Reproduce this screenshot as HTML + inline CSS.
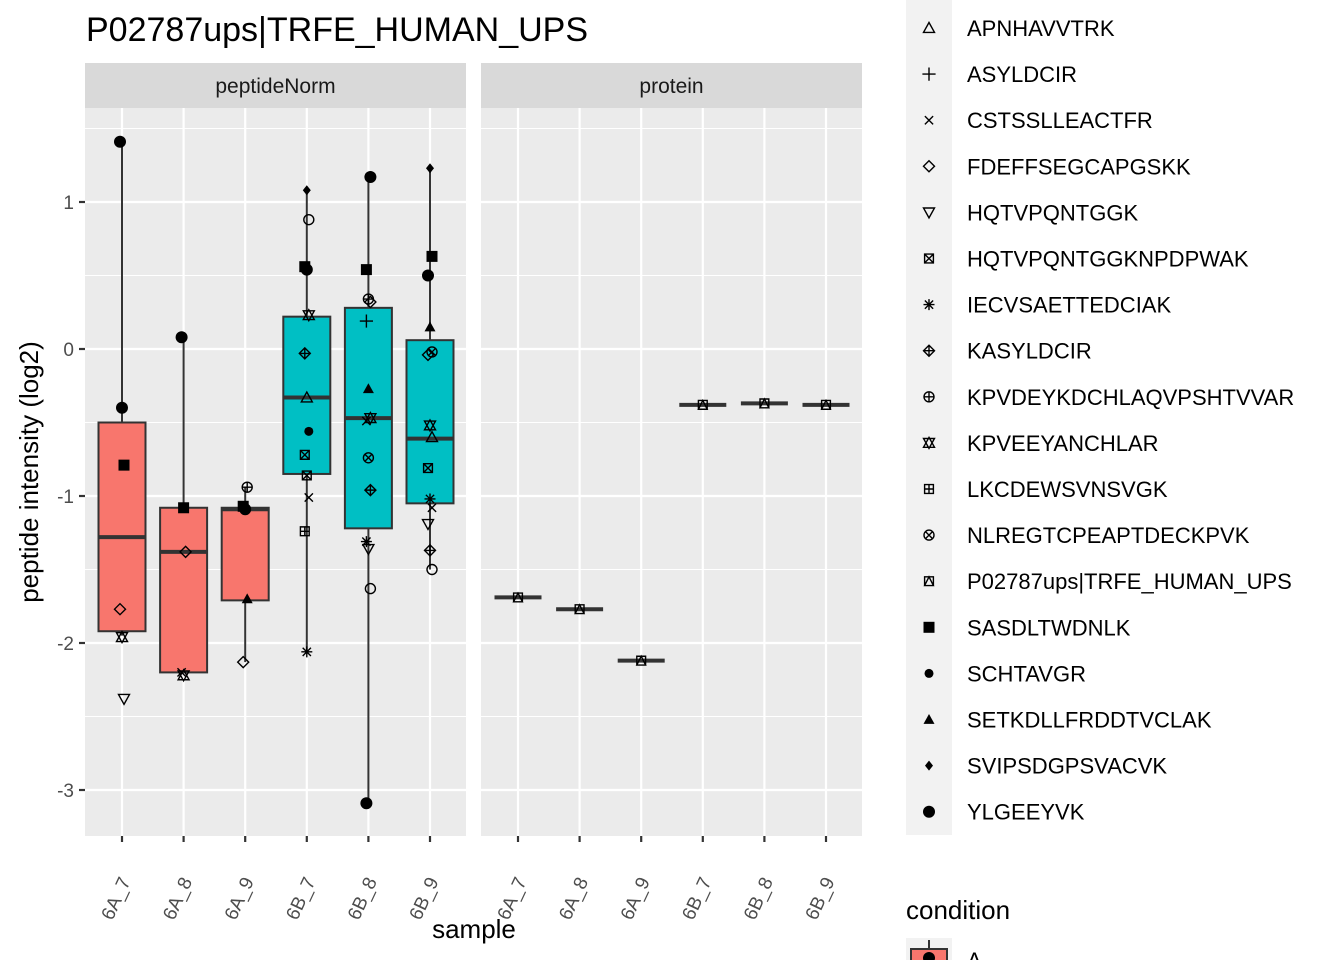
<!DOCTYPE html>
<html><head><meta charset="utf-8"><style>
html,body{margin:0;padding:0;background:#fff}
svg{display:block;font-family:"Liberation Sans",sans-serif}
</style></head><body>
<svg id="c" width="1344" height="960" viewBox="0 0 1344 960">
<text x="86" y="41" font-size="34" fill="#000">P02787ups|TRFE_HUMAN_UPS</text>
<g id="g"></g>
</svg>
<script>
const samples=["6A_7","6A_8","6A_9","6B_7","6B_8","6B_9"];
const yTicks=[1,0,-1,-2,-3];
const boxQ3=[-0.50,-1.08,-1.08,0.22,0.28,0.06];
const boxMed=[-1.28,-1.38,-1.09,-0.33,-0.47,-0.61];
const boxQ1=[-1.92,-2.20,-1.71,-0.85,-1.22,-1.05];
const whiskHi=[1.41,0.08,-0.94,1.08,1.17,1.23];
const whiskLo=[-1.95,-2.20,-2.13,-2.06,-3.09,-1.50];
const proteinVals=[-1.69,-1.77,-2.12,-0.38,-0.37,-0.38];
const ptSample=[0,0,0,0,0,0, 1,1,1,1,1, 2,2,2,2,2, 3,3,3,3,3,3,3,3,3,3,3,3,3, 4,4,4,4,4,4,4,4,4,4,4,4,4,4, 5,5,5,5,5,5,5,5,5,5,5,5,5,5];
const ptVal=[1.41,-0.40,-0.79,-1.77,-1.96,-2.38, 0.08,-1.08,-1.38,-2.20,-2.22, -0.94,-1.07,-1.09,-1.70,-2.13,
 1.08,0.88,0.56,0.54,0.23,-0.03,-0.33,-0.56,-0.72,-0.86,-1.01,-1.24,-2.06,
 1.17,0.54,0.34,0.32,0.19,-0.27,-0.47,-0.49,-0.74,-0.96,-1.31,-1.36,-1.63,-3.09,
 1.23,0.63,0.50,0.15,-0.02,-0.04,-0.52,-0.60,-0.81,-1.02,-1.08,-1.19,-1.37,-1.50];
const ptShape=["circle","circle","square","diamond","star","dtri", "circle","square","diamond","x","star", "oplus","square","circle","tri","diamond",
 "sdiam","ocircle","square","circle","star","dplus","otri","dot","boxx","boxstar","x","boxplus","ast",
 "circle","square","oplus","diamond","plus","tri","star","x","ocross","dplus","ast","dtri","ocircle","circle",
 "sdiam","square","circle","tri","ocross","diamond","star","otri","boxx","ast","x","dtri","dplus","ocircle"];
const legendLabels=["APNHAVVTRK","ASYLDCIR","CSTSSLLEACTFR","FDEFFSEGCAPGSKK","HQTVPQNTGGK","HQTVPQNTGGKNPDPWAK","IECVSAETTEDCIAK","KASYLDCIR","KPVDEYKDCHLAQVPSHTVVAR","KPVEEYANCHLAR","LKCDEWSVNSVGK","NLREGTCPEAPTDECKPVK","P02787ups|TRFE_HUMAN_UPS","SASDLTWDNLK","SCHTAVGR","SETKDLLFRDDTVCLAK","SVIPSDGPSVACVK","YLGEEYVK"];
const legendShapes=["otri","plus","x","diamond","dtri","boxx","ast","dplus","oplus","star","boxplus","ocross","boxtri","square","dot","tri","sdiam","circle"];

const NS="http://www.w3.org/2000/svg";
const g=document.getElementById("g");
const PT=108,PB=836,P1=85,P2=481,PW=381;
function yS(v){return 349-147*v;}
function xS(i,p){return p+37+i*61.6;}
function mk(t,a,parent){const e=document.createElementNS(NS,t);for(const k in a)e.setAttribute(k,a[k]);(parent||g).appendChild(e);return e;}
function shape(s,x,y,name){
 const grp=mk("g",{});
 
 
 const st={stroke:"#000","stroke-width":1.4,fill:"none"};
 const r=5.5;
 const P=(d,f)=>mk("path",Object.assign({},st,{d:d},f?{fill:"#000",stroke:"none"}:{}),grp);
 const tri=`M${x} ${y-r}L${x+r} ${y+r*0.8}L${x-r} ${y+r*0.8}Z`;
 const dtri=`M${x} ${y+r}L${x+r} ${y-r*0.8}L${x-r} ${y-r*0.8}Z`;
 const dia=`M${x} ${y-r}L${x+r} ${y}L${x} ${y+r}L${x-r} ${y}Z`;
 const box=`M${x-r*0.8} ${y-r*0.8}h${r*1.6}v${r*1.6}h${-r*1.6}Z`;
 const pl=`M${x-r} ${y}h${2*r}M${x} ${y-r}v${2*r}`;
 const xx=`M${x-r*0.75} ${y-r*0.75}L${x+r*0.75} ${y+r*0.75}M${x+r*0.75} ${y-r*0.75}L${x-r*0.75} ${y+r*0.75}`;
 switch(s){
  case"circle":mk("circle",{cx:x,cy:y,r:6,fill:"#000"},grp);break;
  case"dot":mk("circle",{cx:x,cy:y,r:4.5,fill:"#000"},grp);break;
  case"square":mk("rect",{x:x-5.5,y:y-5.5,width:11,height:11,fill:"#000"},grp);break;
  case"tri":P(tri,1);break;
  case"otri":P(tri);break;
  case"dtri":P(dtri);break;
  case"diamond":P(dia);break;
  case"sdiam":P(`M${x} ${y-5}L${x+4} ${y}L${x} ${y+5}L${x-4} ${y}Z`,1);break;
  case"dplus":P(dia+pl);break;
  case"star":P(tri+dtri);break;
  case"x":P(xx);break;
  case"plus":P(`M${x-r*1.2} ${y}h${2.4*r}M${x} ${y-r*1.2}v${2.4*r}`);break;
  case"ast":P(pl+xx);break;
  case"ocircle":mk("circle",Object.assign({cx:x,cy:y,r:5},st),grp);break;
  case"oplus":mk("circle",Object.assign({cx:x,cy:y,r:5},st),grp);P(`M${x-5} ${y}h10M${x} ${y-5}v10`);break;
  case"ocross":mk("circle",Object.assign({cx:x,cy:y,r:5},st),grp);P(`M${x-3.5} ${y-3.5}l7 7M${x+3.5} ${y-3.5}l-7 7`);break;
  case"boxx":P(box+`M${x-r*0.8} ${y-r*0.8}l${r*1.6} ${r*1.6}M${x+r*0.8} ${y-r*0.8}l${-r*1.6} ${r*1.6}`);break;
  case"boxplus":P(box+`M${x-r*0.8} ${y}h${r*1.6}M${x} ${y-r*0.8}v${r*1.6}`);break;
  case"boxstar":P(box+`M${x-r*0.8} ${y-r*0.8}l${r*1.6} ${r*1.6}M${x+r*0.8} ${y-r*0.8}l${-r*1.6} ${r*1.6}`);break;
  case"boxtri":P(box+`M${x} ${y-r*0.8}L${x+r*0.8} ${y+r*0.8}L${x-r*0.8} ${y+r*0.8}Z`);break;
 }
}
// panels
[[P1,"peptideNorm"],[P2,"protein"]].forEach(([px,lab],pi)=>{
 const bg=mk("rect",{x:px,y:PT,width:PW,height:PB-PT,fill:"#ebebeb"});
 
 
 for(let v=-3.5;v<=1.5;v+=1){const y=yS(v);if(y>PT&&y<PB)mk("line",{x1:px,x2:px+PW,y1:y,y2:y,stroke:"#fff","stroke-width":1});}
 yTicks.forEach(v=>{const y=yS(v);mk("line",{x1:px,x2:px+PW,y1:y,y2:y,stroke:"#fff","stroke-width":2.2});});
 samples.forEach((s,i)=>{const x=xS(i,px);mk("line",{x1:x,x2:x,y1:PT,y2:PB,stroke:"#fff","stroke-width":2.2});
  mk("line",{x1:x,x2:x,y1:PB,y2:PB+6,stroke:"#333","stroke-width":2.2});
  const t=mk("text",{x:x+9,y:881,"font-size":19,fill:"#4d4d4d","text-anchor":"end",transform:`rotate(-65 ${x+9} 881)`});t.textContent=s;
  
  
 });
 const sr=mk("rect",{x:px,y:63,width:PW,height:45,fill:"#d9d9d9"});
 
 
 const st=mk("text",{x:px+PW/2,y:93,"font-size":21,fill:"#1a1a1a","text-anchor":"middle"});st.textContent=lab;
 
 
});
// y axis
yTicks.forEach(v=>{const y=yS(v);mk("line",{x1:79,x2:85,y1:y,y2:y,stroke:"#333","stroke-width":2.2});
 const t=mk("text",{x:74,y:y+7,"font-size":19,fill:"#4d4d4d","text-anchor":"end"});t.textContent=v<0?"-"+Math.abs(v):String(v);
 
 
});
const yt=mk("text",{x:38,y:472,"font-size":26,fill:"#000","text-anchor":"middle",transform:"rotate(-90 38 472)"});yt.textContent="peptide intensity (log2)";


// boxes
samples.forEach((s,i)=>{
 const x=xS(i,P1),col=i<3?"#f8766d":"#00bfc4";
 mk("line",{x1:x,x2:x,y1:yS(whiskHi[i]),y2:yS(boxQ3[i]),stroke:"#333","stroke-width":2});
 mk("line",{x1:x,x2:x,y1:yS(boxQ1[i]),y2:yS(whiskLo[i]),stroke:"#333","stroke-width":2});
 const b=mk("rect",{x:x-23.5,y:yS(boxQ3[i]),width:47,height:yS(boxQ1[i])-yS(boxQ3[i]),fill:col,stroke:"#333","stroke-width":2});
 
 
 mk("line",{x1:x-23.5,x2:x+23.5,y1:yS(boxMed[i]),y2:yS(boxMed[i]),stroke:"#333","stroke-width":4});
 const px=xS(i,P2),py=yS(proteinVals[i]);
 const pb=mk("line",{x1:px-23.5,x2:px+23.5,y1:py,y2:py,stroke:"#333","stroke-width":4});
 
 
 shape("boxtri",px,py,'protein-point-'+s);
});
ptVal.forEach((v,k)=>{shape(ptShape[k],xS(ptSample[k],P1)+((k%3)-1)*2,yS(v),'peptide-point');});
// x title
const xt=mk("text",{x:474,y:938,"font-size":26,fill:"#000","text-anchor":"middle"});xt.textContent="sample";


// legend
const lb=mk("rect",{x:906,y:0,width:46,height:835,fill:"#f2f2f2"});


legendLabels.forEach((l,i)=>{const y=28+i*46.1;
 shape(legendShapes[i],929,y,'legend-key');
 const t=mk("text",{x:967,y:y+8,"font-size":22,fill:"#000"});t.textContent=l;
 
 
});
const ct=mk("text",{x:906,y:919,"font-size":26,fill:"#000"});ct.textContent="condition";


mk("rect",{x:906,y:938,width:46,height:30,fill:"#f2f2f2"});
mk("line",{x1:929,x2:929,y1:940,y2:950,stroke:"#333","stroke-width":2});
const ck=mk("rect",{x:911,y:949,width:36,height:20,fill:"#f8766d",stroke:"#333","stroke-width":2});


mk("circle",{cx:929,cy:958,r:6,fill:"#000"});
const ca=mk("text",{x:967,y:968,"font-size":22,fill:"#000"});ca.textContent="A";


</script>
</body></html>
